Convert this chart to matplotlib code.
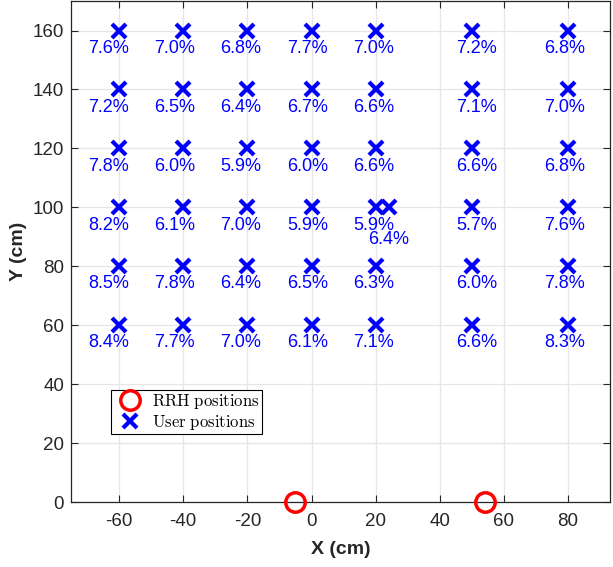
#!/usr/bin/env python3
"""User positions grid with error percentages and RRH positions."""

import matplotlib

matplotlib.use("Agg")
import matplotlib.pyplot as plt

plt.rcParams["mathtext.fontset"] = "cm"
plt.rcParams["axes.unicode_minus"] = False
plt.rcParams["font.family"] = ["Liberation Sans", "DejaVu Sans"]

# RRH (radio head) positions, cm
rrh_x = [-5, 54]
rrh_y = [0, 0]

# user positions on the grid, cm
grid_x = [-60, -40, -20, 0, 20, 50, 80]
grid_y = [160, 140, 120, 100, 80, 60]

# error per grid point, rows follow grid_y, columns follow grid_x
errors = [
    [7.6, 7.0, 6.8, 7.7, 7.0, 7.2, 6.8],
    [7.2, 6.5, 6.4, 6.7, 6.6, 7.1, 7.0],
    [7.8, 6.0, 5.9, 6.0, 6.6, 6.6, 6.8],
    [8.2, 6.1, 7.0, 5.9, 5.9, 5.7, 7.6],
    [8.5, 7.8, 6.4, 6.5, 6.3, 6.0, 7.8],
    [8.4, 7.7, 7.0, 6.1, 7.1, 6.6, 8.3],
]

# one extra user position off the grid
extra_x = 24
extra_y = 100
extra_error = 6.4

# horizontal shift of the labels per column, cm
label_dx = [-3.4, -2.8, -2.2, -1.2, -0.6, 1.5, -1.2]

BLUE = "#0000ff"
RED = "#ff0000"
AXIS_GREY = "#262626"

fig = plt.figure(figsize=(6.13, 5.67), dpi=100)
ax = fig.add_axes([0.1158, 0.1146, 0.879, 0.8835])

ax.grid(True, color="#e6e6e6", linewidth=0.9, zorder=0)
ax.set_axisbelow(True)

users_x = [x for _ in grid_y for x in grid_x] + [extra_x]
users_y = [y for y in grid_y for _ in grid_x] + [extra_y]

ax.plot(rrh_x, rrh_y, linestyle="none", marker="o", markersize=14,
        markerfacecolor="none", markeredgecolor=RED, markeredgewidth=2.5,
        clip_on=False, zorder=4, label=r"$\mathrm{RRH\ positions}$")
ax.plot(users_x, users_y, linestyle="none", marker="x", markersize=10,
        markeredgecolor=BLUE, markeredgewidth=3, zorder=3,
        label=r"$\mathrm{User\ positions}$")

for row, y in enumerate(grid_y):
    for col, x in enumerate(grid_x):
        ax.text(x + label_dx[col], y - 6, f"{errors[row][col]:.1f}%",
                color=BLUE, fontsize=13, ha="center", va="center")
ax.text(extra_x, extra_y - 11, f"{extra_error:.1f}%",
        color=BLUE, fontsize=13, ha="center", va="center")

ax.set_xlim(-75, 93)
ax.set_ylim(0, 170)
ax.set_xticks(range(-60, 81, 20))
ax.set_yticks(range(0, 161, 20))
ax.tick_params(direction="in", top=True, right=True, length=5,
               labelsize=13.5, color=AXIS_GREY, labelcolor=AXIS_GREY)
ax.tick_params(axis="x", pad=8)
ax.tick_params(axis="y", pad=5)
for spine in ax.spines.values():
    spine.set_color(AXIS_GREY)
    spine.set_linewidth(0.9)

ax.set_xlabel("X (cm)", fontsize=14, fontweight="bold", color=AXIS_GREY,
              labelpad=8)
ax.set_ylabel("Y (cm)", fontsize=14, fontweight="bold", color=AXIS_GREY,
              labelpad=4)

legend = ax.legend(loc="upper left", bbox_to_anchor=(0.074, 0.224),
                   fontsize=12, frameon=True, fancybox=False,
                   edgecolor="black", framealpha=1, borderpad=0.15,
                   handletextpad=0.3, labelspacing=0.08, handlelength=2.0,
                   borderaxespad=0)
legend.get_frame().set_linewidth(0.8)

fig.savefig("out.png", dpi=100)
